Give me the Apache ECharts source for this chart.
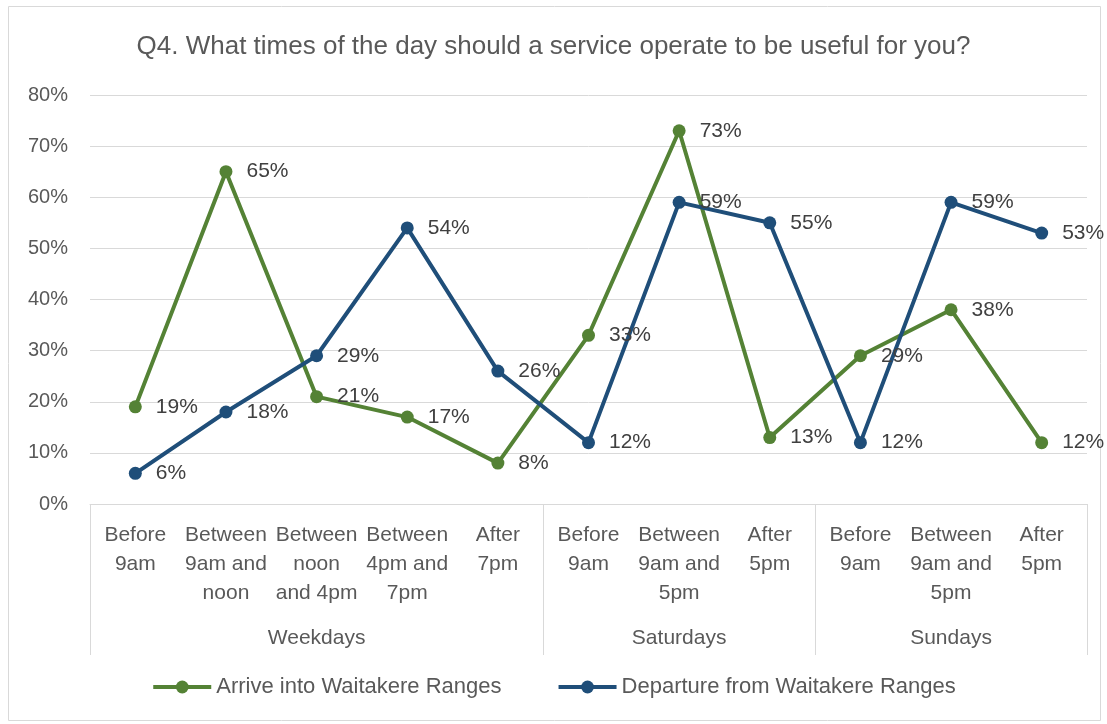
<!DOCTYPE html>
<html lang="en">

<head>
    <meta charset="UTF-8">
    <title>Q4 service times</title>
    <script src="https://cdn.jsdelivr.net/npm/echarts@6/dist/echarts.min.js"></script>
    <style>
        body { margin: 0; background: #fff; }
        #chart { width: 1107px; height: 724px; }
    </style>
</head>

<body>
    <div id="chart"></div>
    <script>
        var categories = ['Before\n9am', 'Between\n9am and\nnoon', 'Between\nnoon\nand 4pm', 'Between\n4pm and\n7pm', 'After\n7pm',
            'Before\n9am', 'Between\n9am and\n5pm', 'After\n5pm',
            'Before\n9am', 'Between\n9am and\n5pm', 'After\n5pm'];
        var groupLabels = ['', '', 'Weekdays', '', '', '', 'Saturdays', '', '', 'Sundays', ''];
        var groupStarts = [0, 5, 8];
        var arrive = [19, 65, 21, 17, 8, 33, 73, 13, 29, 38, 12];
        var departure = [6, 18, 29, 54, 26, 12, 59, 55, 12, 59, 53];

        var font = '"Liberation Sans", Arial, sans-serif';
        var textColor = '#595959';
        var gridColor = '#d9d9d9';

        function makeSeries(name, data, color) {
            return {
                name: name,
                type: 'line',
                data: data,
                symbol: 'circle',
                symbolSize: 13,
                lineStyle: { width: 4, color: color },
                itemStyle: { color: color },
                label: {
                    show: true,
                    position: 'right',
                    distance: 14,
                    formatter: '{c}%',
                    color: '#404040',
                    fontSize: 21,
                    fontFamily: font
                },
                z: 2
            };
        }

        var chart = echarts.init(document.getElementById('chart'));
        chart.setOption({
            animation: false,
            textStyle: { fontFamily: font },
            graphic: [{
                type: 'rect',
                shape: { x: 8.5, y: 6.5, width: 1092, height: 714 },
                style: { fill: 'none', stroke: gridColor, lineWidth: 1 },
                silent: true
            }],
            title: {
                text: 'Q4. What times of the day should a service operate to be useful for you?',
                left: 'center',
                top: 29,
                textStyle: { color: textColor, fontSize: 26, fontWeight: 'normal', fontFamily: font }
            },
            legend: {
                bottom: 21,
                left: 'center',
                itemWidth: 58,
                itemHeight: 16,
                itemGap: 55,
                lineStyle: { width: 4 },
                textStyle: { color: textColor, fontSize: 22, fontFamily: font },
                data: ['Arrive into Waitakere Ranges', 'Departure from Waitakere Ranges']
            },
            grid: { left: 90, right: 20, top: 95, bottom: 220 },
            xAxis: [{
                type: 'category',
                data: categories,
                boundaryGap: true,
                axisLine: { lineStyle: { color: gridColor, width: 1 } },
                axisTick: {
                    show: true,
                    length: 151,
                    lineStyle: { color: gridColor, width: 1 },
                    interval: function (i) { return groupStarts.indexOf(i) >= 0; }
                },
                axisLabel: {
                    interval: 0,
                    margin: 17,
                    color: textColor,
                    fontSize: 21,
                    lineHeight: 29,
                    fontFamily: font
                }
            }, {
                type: 'category',
                data: groupLabels,
                position: 'bottom',
                boundaryGap: true,
                axisLine: { show: false },
                axisTick: { show: false },
                axisLabel: {
                    interval: 0,
                    margin: 120,
                    color: textColor,
                    fontSize: 21,
                    lineHeight: 29,
                    fontFamily: font
                }
            }],
            yAxis: {
                type: 'value',
                min: 0,
                max: 80,
                interval: 10,
                axisLine: { show: false },
                axisTick: { show: false },
                axisLabel: { formatter: '{value}%', color: textColor, fontSize: 20, margin: 22, fontFamily: font },
                splitLine: { lineStyle: { color: gridColor, width: 1 } }
            },
            series: [
                makeSeries('Arrive into Waitakere Ranges', arrive, '#548235'),
                makeSeries('Departure from Waitakere Ranges', departure, '#1f4e79')
            ]
        });
    </script>
</body>

</html>
